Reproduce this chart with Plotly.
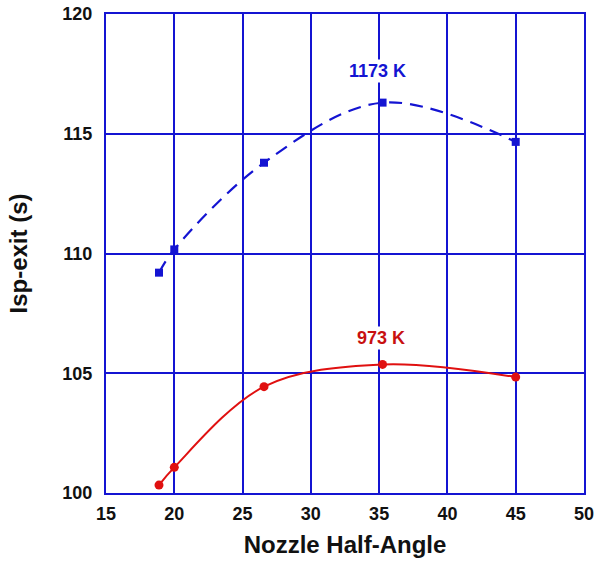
import plotly.graph_objects as go

angle = [18.88, 20.0, 26.57, 35.25, 45.0]
isp_1173 = [109.2, 110.17, 113.79, 116.3, 114.66]
isp_973 = [100.33, 101.07, 104.44, 105.37, 104.84]
x_ticks = [15, 20, 25, 30, 35, 40, 45, 50]
y_ticks = [100, 105, 110, 115, 120]

BLUE = "#1414d2"
RED = "#e01010"
FONT = "Liberation Sans, Arial, sans-serif"

fig = go.Figure()
fig.add_trace(go.Scatter(
    x=angle, y=isp_1173, mode="lines+markers", line_shape="spline",
    line=dict(color=BLUE, width=2.2, dash="13px,8px"),
    marker=dict(symbol="square", size=8, color=BLUE),
    showlegend=False))
fig.add_trace(go.Scatter(
    x=angle, y=isp_973, mode="lines+markers", line_shape="spline",
    line=dict(color=RED, width=2),
    marker=dict(symbol="circle", size=9, color=RED),
    showlegend=False))

axis_common = dict(
    showgrid=True, gridcolor=BLUE, gridwidth=1.6,
    showline=True, linecolor=BLUE, linewidth=2, mirror=True,
    ticks="inside", ticklen=5, tickcolor=BLUE, tickwidth=1.5,
    zeroline=False, automargin=False,
    tickfont=dict(family=FONT, size=18, color="#111111", weight="bold"),
)

fig.update_layout(
    width=596, height=564,
    margin=dict(l=106, r=12, t=14, b=71),
    plot_bgcolor="white", paper_bgcolor="white",
    xaxis=dict(range=[15, 50], tickvals=x_ticks, ticklabelstandoff=3,
               title=dict(text="Nozzle Half-Angle", standoff=14,
                          font=dict(family=FONT, size=24, color="#111111", weight="bold")),
               **axis_common),
    yaxis=dict(range=[100, 120], tickvals=y_ticks, ticklabelstandoff=8,
               title=dict(text="Isp-exit (s)", standoff=28,
                          font=dict(family=FONT, size=24, color="#111111", weight="bold")),
               **axis_common),
    annotations=[
        dict(x=34.9, y=117.6, xref="x", yref="y", text="1173 K", showarrow=False,
             bgcolor="white", borderpad=1,
             font=dict(family=FONT, size=18, color=BLUE, weight="bold")),
        dict(x=35.15, y=106.47, xref="x", yref="y", text="973 K", showarrow=False,
             bgcolor="white", borderpad=1,
             font=dict(family=FONT, size=18, color="#c81010", weight="bold")),
    ],
)

fig.write_html(
    "out.html",
    config={"displayModeBar": False},
    post_script="document.body.style.margin='0';document.body.style.overflow='hidden';",
)
